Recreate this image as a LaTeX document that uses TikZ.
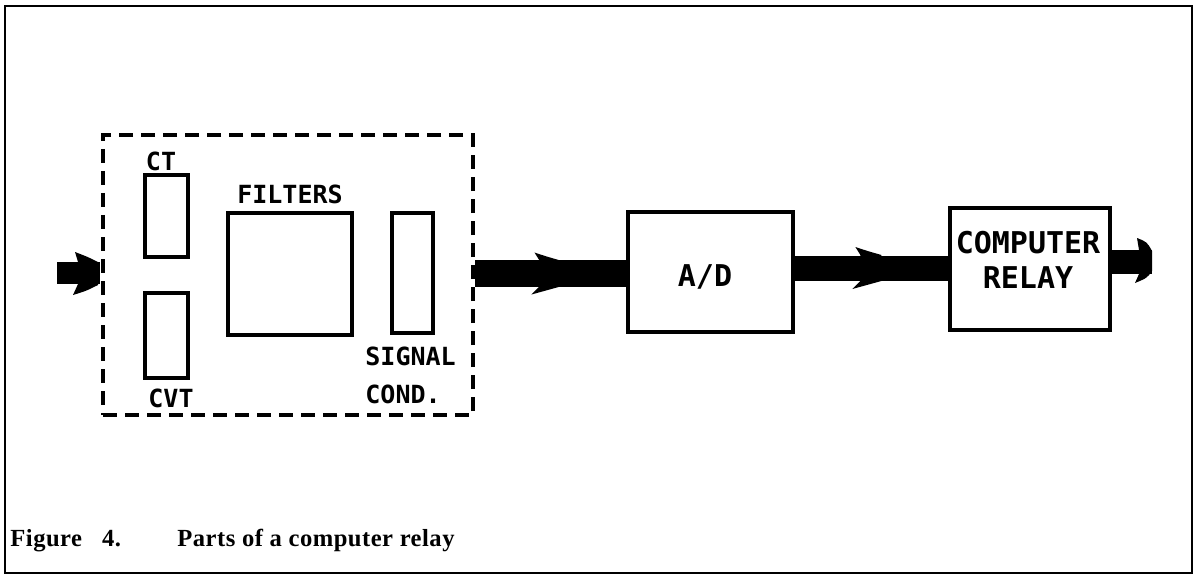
\documentclass[tikz,border=0pt]{standalone}
\usepackage{fontspec}
\usetikzlibrary{calc}
\newfontfamily\plotfont{DejaVu Sans Mono}
\newfontfamily\capfont[LetterSpace=2]{Liberation Serif}
\tikzset{
  blk/.style={draw, line width=2pt, rectangle, inner sep=0pt},
  dashbox/.style={draw, line width=2pt, rectangle, inner sep=0pt, dash pattern=on 7pt off 4pt},
  lbl/.style={inner sep=0pt, font=\plotfont\bfseries\fontsize{12.5}{14}\selectfont},
  biglbl/.style={inner sep=0pt, font=\plotfont\bfseries\fontsize{15}{17}\selectfont},
  caplbl/.style={anchor=base west, inner sep=0pt, font=\capfont\bfseries\fontsize{12.3}{14}\selectfont},
  shaft/.style={line cap=butt},
  midhead/.pic={\fill (-10,-21) .. controls (2,-17) .. (16,-13) -- (16,13) .. controls (2,17) .. (-13,21) -- (-5,13) -- (-5,-13) -- cycle;},
  inhead/.pic={\fill (-25,-21) .. controls (-12,-16) .. (-2,-11) -- (-2,12) .. controls (-14,18) .. (-27,22) -- (-22,11) -- (-22,-11) -- cycle;},
  outhead/.pic={\fill (-15,-24) .. controls (-5,-20) .. (0,-11) -- (0,9) .. controls (-5,16) .. (-17,21) -- (-13,12) -- (-13,-12) -- cycle;}
}
\begin{document}
\begin{tikzpicture}[x=0.5pt,y=-0.5pt]
\useasboundingbox (0,0) rectangle (1197,577);
\draw[line width=1.3pt] (5,6) rectangle (1192,573);
% blocks
\node[dashbox, minimum width=185pt, minimum height=140pt] (dash) at (288,275) {};
\node[blk, minimum width=21.5pt, minimum height=41pt] (ct) at (166.5,216) {};
\node[blk, minimum width=21.5pt, minimum height=42.5pt] (cvt) at (166.5,335.5) {};
\node[blk, minimum width=62pt, minimum height=61pt] (filt) at (290,274) {};
\node[blk, minimum width=20.5pt, minimum height=60pt] (sig) at (412.5,273) {};
\node[blk, minimum width=82.5pt, minimum height=60pt] (ad) at (710.5,272) {};
\node[blk, minimum width=80pt, minimum height=61pt] (relay) at (1030,269) {};
% labels
\node[lbl] (ctl) at (161,161) {CT};
\node[lbl] (cvtl) at (171,398) {CVT};
\node[lbl] (filtl) at (290,194) {FILTERS};
\node[lbl, anchor=west] (sigl) at (365,356) {SIGNAL};
\node[lbl, anchor=west] (condl) at (365,394) {COND.};
\node[biglbl] (adl) at (705,277) {A/D};
\node[biglbl] (rel1) at (1028,243) {COMPUTER};
\node[biglbl] (rel2) at (1028,278) {RELAY};
% connectors
\coordinate (inS) at (57,273);
\coordinate (inE) at (100,273);
\draw[shaft, line width=11pt] (inS) -- (inE);
\path (inE) pic {inhead};
\coordinate (a1) at (dash.east |- 0,273.5);
\coordinate (a2) at (ad.west |- 0,273.5);
\draw[shaft, line width=13.5pt] (a1) -- (a2);
\path ($(a1)!0.46!(a2)$) pic {midhead};
\coordinate (b1) at (ad.east |- 0,268);
\coordinate (b2) at (relay.west |- 0,268);
\draw[shaft, line width=12.5pt] (b1) -- (b2);
\path ($(b1)!0.46!(b2)$) pic {midhead};
\coordinate (c1) at (relay.east |- 0,262);
\coordinate (c2) at (1152,262);
\draw[shaft, line width=12pt] (c1) -- (c2);
\path (c2) pic {outhead};
% caption
\node[caplbl] (cap) at (10,546) {Figure\ \ \ 4.};
\node[caplbl] (cap2) at (177,546) {Parts of a computer relay};
\end{tikzpicture}
\end{document}
